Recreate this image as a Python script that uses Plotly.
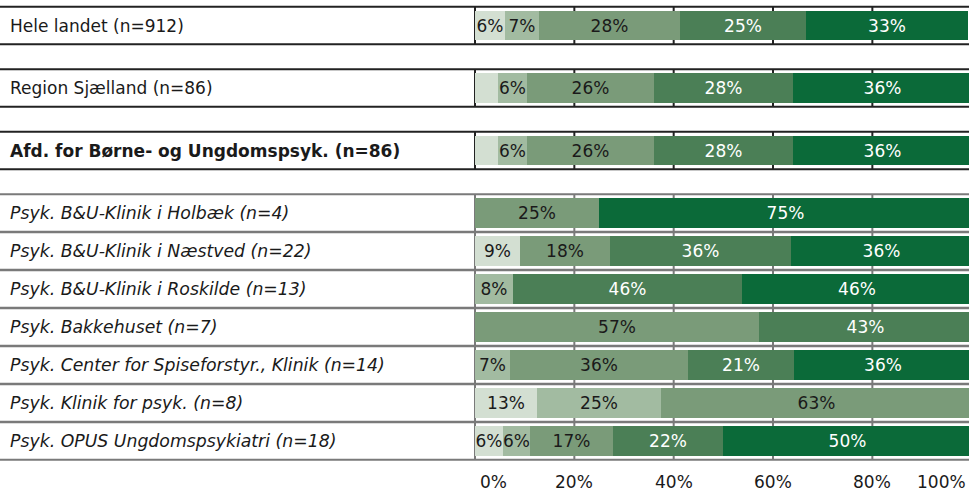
import math
import plotly.graph_objects as go

# ---------------- data ----------------
row_labels = [
    "Hele landet (n=912)",
    "Region Sjælland (n=86)",
    "<b>Afd. for Børne- og Ungdomspsyk. (n=86)</b>",
    "<i>Psyk. B&amp;U-Klinik i Holbæk (n=4)</i>",
    "<i>Psyk. B&amp;U-Klinik i Næstved (n=22)</i>",
    "<i>Psyk. B&amp;U-Klinik i Roskilde (n=13)</i>",
    "<i>Psyk. Bakkehuset (n=7)</i>",
    "<i>Psyk. Center for Spiseforstyr., Klinik (n=14)</i>",
    "<i>Psyk. Klinik for psyk. (n=8)</i>",
    "<i>Psyk. OPUS Ungdomspsykiatri (n=18)</i>",
]
row_groups = [0, 1, 2, 3, 3, 3, 3, 3, 3, 3]

s1 = [6.1, 4.65, 4.65, 0, 9.09, 0, 0, 0, 12.5, 5.56]
s2 = [6.8, 5.81, 5.81, 0, 0, 7.69, 0, 7.14, 25.0, 5.56]
s3 = [28.4, 25.58, 25.58, 25.0, 18.18, 0, 57.14, 35.71, 62.5, 16.67]
s4 = [25.3, 27.91, 27.91, 0, 36.36, 46.15, 42.86, 21.43, 0, 22.22]
s5 = [32.6, 36.05, 36.05, 75.0, 36.36, 46.15, 0, 35.71, 0, 50.0]
series = [s1, s2, s3, s4, s5]

tick_values = [0, 20, 40, 60, 80, 100]
tick_labels = ["0%", "20%", "40%", "60%", "80%", "100%"]

# ---------------- style ----------------
seg_colors = ["#d3dfd2", "#a2bba1", "#7a9b79", "#4b7f56", "#0b6a39"]
seg_text_colors = ["#1a1a1a", "#1a1a1a", "#1a1a1a", "#ffffff", "#ffffff"]
FONT = "DejaVu Sans"
W, H = 969, 491
PITCH = 38.0          # px per row
ROW0 = 25.5           # px centre of first row
GROUP_GAP = 0.645     # extra gap (rows) between groups
BAR_W = 0.77
X0_PX = 475.0         # px of 0 %
PX_PER_PCT = 4.967

ypos = [i + GROUP_GAP * g for i, g in enumerate(row_groups)]
y_top = -ROW0 / PITCH
y_bot = (H - ROW0) / PITCH
x_left = -X0_PX / PX_PER_PCT
x_right = (W - X0_PX) / PX_PER_PCT


def fmt(v):
    return f"{math.floor(v + 0.5)}%" if v >= 5 else ""


fig = go.Figure()
for vals, col, tcol in zip(series, seg_colors, seg_text_colors):
    fig.add_trace(go.Bar(
        orientation="h", x=vals, y=ypos, width=BAR_W,
        marker=dict(color=col, line=dict(width=0)),
        text=[fmt(v) for v in vals], textposition="inside",
        insidetextanchor="middle", textangle=0,
        textfont=dict(family=FONT, size=17, color=tcol),
        hoverinfo="skip", showlegend=False,
    ))

shapes = []
annotations = []
for y, g, lab in zip(ypos, row_groups, row_labels):
    lc = "#222222" if g < 3 else "#7a7a7a"
    for yy in (y - 0.495, y + 0.495):
        shapes.append(dict(type="line", xref="paper", yref="y", x0=0, x1=1,
                           y0=yy, y1=yy, line=dict(color=lc, width=2), layer="above"))
    for tv in tick_values[:-1]:
        shapes.append(dict(type="line", xref="x", yref="y", x0=tv, x1=tv,
                           y0=y - 0.495, y1=y + 0.495,
                           line=dict(color=lc, width=2), layer="below"))
    fs = 17.3 if lab.startswith("<i>") else 17
    annotations.append(dict(xref="paper", yref="y", x=8 / W, y=y, text=lab,
                            xanchor="left", yanchor="middle", showarrow=False,
                            font=dict(family=FONT, size=fs, color="#1a1a1a")))

ty = 1 - 482 / H
for i, (tv, tl) in enumerate(zip(tick_values, tick_labels)):
    if i == 0:
        a = dict(xref="x", x=tv, xanchor="left", xshift=3)
    elif i == len(tick_values) - 1:
        a = dict(xref="paper", x=1, xanchor="right", xshift=-1)
    else:
        a = dict(xref="x", x=tv, xanchor="center")
    a.update(yref="paper", y=ty, yanchor="middle", text=tl, showarrow=False,
             font=dict(family=FONT, size=17, color="#1a1a1a"))
    annotations.append(a)

fig.update_layout(
    width=W, height=H, margin=dict(l=0, r=0, t=0, b=0),
    barmode="stack", bargap=0,
    paper_bgcolor="white", plot_bgcolor="white",
    xaxis=dict(range=[x_left, x_right], showgrid=False, zeroline=False,
               showticklabels=False, ticks="", fixedrange=True),
    yaxis=dict(range=[y_bot, y_top], showgrid=False, zeroline=False,
               showticklabels=False, ticks="", fixedrange=True),
    uniformtext=dict(minsize=17, mode="show"),
    shapes=shapes, annotations=annotations,
    font=dict(family=FONT),
)

fig.write_html(
    "out.html",
    config={"displayModeBar": False},
    post_script="document.body.style.margin='0';document.body.style.overflow='hidden';",
)
